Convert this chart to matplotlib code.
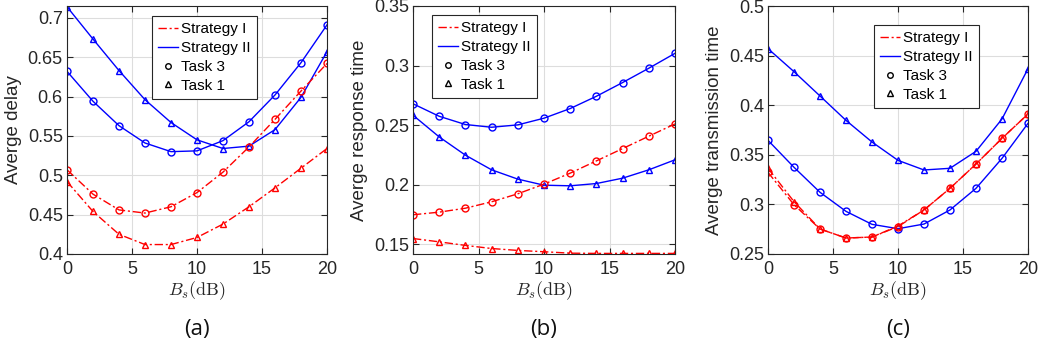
import numpy as np
import matplotlib
matplotlib.use("Agg")
import matplotlib.pyplot as plt
from matplotlib.ticker import FormatStrFormatter
from matplotlib.lines import Line2D

plt.rcParams['font.family'] = ['Liberation Sans', 'DejaVu Sans']
plt.rcParams['mathtext.fontset'] = 'cm'

x = [0, 2, 4, 6, 8, 10, 12, 14, 16, 18, 20]

# (a) Average delay
a_s2_t1 = [0.714, 0.673, 0.633, 0.596, 0.567, 0.545, 0.534, 0.537, 0.558, 0.599, 0.657]
a_s2_t3 = [0.632, 0.594, 0.563, 0.541, 0.530, 0.531, 0.544, 0.568, 0.602, 0.643, 0.691]
a_s1_t3 = [0.507, 0.476, 0.456, 0.452, 0.460, 0.478, 0.504, 0.536, 0.571, 0.607, 0.642]
a_s1_t1 = [0.492, 0.454, 0.425, 0.412, 0.412, 0.421, 0.438, 0.460, 0.484, 0.509, 0.534]

# (b) Average response time
b_s2_t3 = [0.268, 0.2575, 0.2506, 0.2483, 0.2503, 0.2559, 0.264, 0.2743, 0.2858, 0.2978, 0.3103]
b_s2_t1 = [0.2584, 0.2402, 0.2249, 0.2126, 0.2048, 0.1997, 0.1992, 0.2011, 0.2056, 0.2126, 0.221]
b_s1_t3 = [0.1749, 0.1771, 0.1804, 0.1858, 0.1925, 0.2006, 0.2098, 0.2201, 0.2304, 0.2408, 0.2511]
b_s1_t1 = [0.155, 0.1522, 0.1492, 0.1466, 0.145, 0.1439, 0.1427, 0.1425, 0.1425, 0.1425, 0.1425]

# (c) Average transmission time
c_s2_t1 = [0.457, 0.4338, 0.4093, 0.3847, 0.3629, 0.3444, 0.3347, 0.3364, 0.3535, 0.3861, 0.4368]
c_s2_t3 = [0.3646, 0.3374, 0.3122, 0.293, 0.2799, 0.2755, 0.2802, 0.2944, 0.3162, 0.3464, 0.3817]
c_s1_t3 = [0.3323, 0.2997, 0.2752, 0.2661, 0.2671, 0.2776, 0.2944, 0.3162, 0.3407, 0.3666, 0.3911]
c_s1_t1 = [0.3364, 0.3028, 0.2752, 0.2661, 0.2671, 0.2782, 0.2944, 0.3162, 0.3407, 0.3666, 0.3911]

ylabels = ['Averge delay', 'Averge response time', 'Averge transmission time']
captions = ['(a)', '(b)', '(c)']
legend_labels = ['Strategy I', 'Strategy II', 'Task 3', 'Task 1']

RED = '#FF0000'
BLUE = '#0000FF'
DASHDOT = (0, (6, 2, 1.5, 2))

W, H = 1042, 354
fig = plt.figure(figsize=(W / 100, H / 100), dpi=100)

boxes = [(67, 6, 260, 248), (413, 6, 262, 248), (768, 6, 260, 248)]
ylims = [(0.4, 0.715), (0.142, 0.35), (0.25, 0.5)]
yticks = [np.arange(0.4, 0.7001, 0.05), np.arange(0.15, 0.3501, 0.05), np.arange(0.25, 0.5001, 0.05)]
legend_boxes = [(152, 16), (432, 15), (874, 25)]

data = [
    (a_s1_t3, a_s1_t1, a_s2_t3, a_s2_t1),
    (b_s1_t3, b_s1_t1, b_s2_t3, b_s2_t1),
    (c_s1_t3, c_s1_t1, c_s2_t3, c_s2_t1),
]

for i in range(3):
    l, t, w, h = boxes[i]
    ax = fig.add_axes([l / W, (H - t - h) / H, w / W, h / H])
    s1t3, s1t1, s2t3, s2t1 = data[i]
    mk = dict(markersize=5, markerfacecolor='none', markeredgewidth=1.0, linewidth=1.0)
    ax.plot(x, s2t1, color=BLUE, linestyle='-', marker='^', **mk)
    ax.plot(x, s2t3, color=BLUE, linestyle='-', marker='o', **mk)
    ax.plot(x, s1t3, color=RED, linestyle=DASHDOT, marker='o', **mk)
    ax.plot(x, s1t1, color=RED, linestyle=DASHDOT, marker='^', **mk)
    ax.set_xlim(0, 20)
    ax.set_ylim(*ylims[i])
    ax.set_xticks([0, 5, 10, 15, 20])
    ax.set_yticks(yticks[i])
    ax.yaxis.set_major_formatter(FormatStrFormatter('%g'))
    ax.xaxis.set_major_formatter(FormatStrFormatter('%g'))
    ax.grid(True, color='#DDDDDD', linewidth=0.8)
    ax.set_axisbelow(True)
    ax.tick_params(direction='in', top=True, right=True, labelsize=13, length=4,
                   width=0.8, colors='#262626')
    ax.tick_params(axis='y', pad=3)
    ax.tick_params(axis='x', pad=5)
    for sp in ax.spines.values():
        sp.set_color('#262626')
        sp.set_linewidth(0.8)
    ax.set_ylabel(ylabels[i], fontsize=13.5, color='#262626', labelpad=4)
    ax.set_xlabel(r'$B_s(\mathrm{dB})$', fontsize=13, color='#262626', labelpad=1)
    ax.text(0.5, -0.306, captions[i], transform=ax.transAxes, ha='center', va='center',
            fontsize=16, family=['Open Sans', 'DejaVu Sans'], color='#111111')

    handles = [
        Line2D([], [], color=RED, linestyle=DASHDOT, linewidth=1.0),
        Line2D([], [], color=BLUE, linestyle='-', linewidth=1.0),
        Line2D([], [], color='black', linestyle='none', marker='o', markersize=4,
               markerfacecolor='none', markeredgewidth=1.0),
        Line2D([], [], color='black', linestyle='none', marker='^', markersize=4,
               markerfacecolor='none', markeredgewidth=1.0),
    ]
    lx, ly = legend_boxes[i]
    leg = ax.legend(handles, legend_labels, loc='upper left',
                    bbox_to_anchor=(lx / W, 1 - ly / H), bbox_transform=fig.transFigure,
                    fontsize=11, frameon=True, fancybox=False, framealpha=1,
                    edgecolor='#262626', borderpad=0.4, labelspacing=0.32,
                    handlelength=1.3, handletextpad=0.2, borderaxespad=0)
    leg.get_frame().set_linewidth(0.8)

fig.savefig('out.png', dpi=100)
